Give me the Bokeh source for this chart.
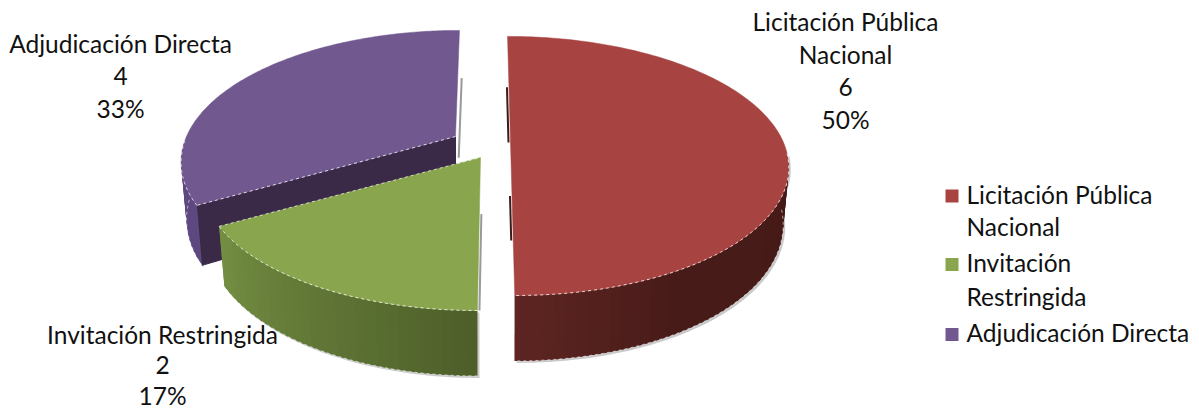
import numpy as np
from bokeh.plotting import figure
from bokeh.core.properties import value
from bokeh.embed import file_html
from bokeh.resources import INLINE

categories = ["Licitación Pública Nacional", "Invitación Restringida", "Adjudicación Directa"]
counts = [6, 2, 4]
top_colors = ["#A74442", "#89A54E", "#71588F"]
legend_lines = [["Licitación Pública", "Nacional"], ["Invitación", "Restringida"], ["Adjudicación Directa"]]
label_lines = [["Licitación Pública", "Nacional"], ["Invitación Restringida"], ["Adjudicación Directa"]]

# layout (page pixel space of the picture)
FONT = "Lato"
SIZE = "24.5px"
K, B = 0.181, 125.3
centers = [(510, 142, 273, -3.5), (480, 157, 273, 2.5), (455, 136, 269, 4.7)]
# wall colour stops: (clock angle, colour) for each slice
wall_stops = [
    [(95, "#451A17"), (150, "#471B18"), (180, "#5E2522")],
    [(180, "#4D5E29"), (240, "#748F43")],
    [(240, "#5E4880"), (268, "#5E4880")],
]
wall_ranges = [(95, 180), (180, 240), (240, 268)]
label_pos = [(845, 21), (162, 334), (120, 43)]
label_step = [32.5, 30.5, 32.5]
legend_x, legend_text_x = 945, 966
legend_y = [[194, 226], [262, 296], [332]]
legend_sq = [195.5, 264, 334]

W, H = 1199, 410
p = figure(width=W, height=H, x_range=(0, W), y_range=(H, 0),
           output_backend="svg", toolbar_location=None, min_border=0)
p.axis.visible = False
p.grid.visible = False
p.outline_line_color = None
p.background_fill_color = "white"


def ring(c, th, lower=False):
    cx, cy, a, s = c
    t = np.radians(th)
    u, v = np.sin(t), np.cos(t)
    d = 1 + K * v
    x = (a * u + s * v) / d
    y = -B * v / d
    if lower:
        return cx + x * 0.98, cy + y * 1.065 + 55.5
    return cx + x, cy + y


def radial(c, th, f0, f1, dx):
    ex, ey = ring(c, th)
    return [c[0] + (ex - c[0]) * f0 + dx, c[0] + (ex - c[0]) * f1 + dx], [c[1] + (ey - c[1]) * f0, c[1] + (ey - c[1]) * f1]


def hex2(c):
    return np.array([int(c[i:i + 2], 16) for i in (1, 3, 5)], float)


def wall_colour(stops, th):
    xs = [s[0] for s in stops]
    rgb = [np.interp(th, xs, [hex2(s[1])[i] for s in stops]) for i in range(3)]
    return "#%02x%02x%02x" % tuple(int(round(v)) for v in rgb)


total = sum(counts)
angles = np.cumsum([0] + [360 * c / total for c in counts])
DASH = "3 3"

for i in [2, 1, 0]:
    c = centers[i]
    a0, a1 = angles[i], angles[i + 1]
    w0, w1 = wall_ranges[i]
    # soft shadow of the solid
    tt = np.linspace(w0, w1, 60)
    sx = np.r_[ring(c, tt)[0], ring(c, tt[::-1], True)[0]]
    sy = np.r_[ring(c, tt)[1], ring(c, tt[::-1], True)[1]]
    p.patch(sx + 2, sy + 2, fill_color="#888888", fill_alpha=0.45, line_color=None)
    # grey edge shadows along the cut sides
    if i == 2:
        lx, ly = radial(c, a1, 0.0 - 0.2, 0.55, 4)
        p.line(lx, ly, line_color="#9a9a9a", line_width=2)
    if i == 1:
        lx, ly = radial(c, a0, 0.37, 1.0, 2)
        p.line(lx, ly, line_color="#9a9a9a", line_width=2)
    # cut face of the purple slice
    if i == 2:
        x0, y0 = ring(c, a0)
        x1, y1 = ring(c, a0, True)
        p.patch([c[0], x0, x1, c[0]], [c[1], y0, y1, c[1] + 55.5],
                fill_color="#3A2A48", line_color="#3A2A48")
    # wall strips, each overlapping its neighbour so that no seams show
    edges = np.r_[np.arange(w0, w1, 2.0), w1]
    for t0, t1 in zip(edges[:-1], edges[1:]):
        span = np.array([t0, min(t1 + 2.0, w1)])
        ax, ay = ring(c, span)
        ex, ey = ring(c, span[::-1], True)
        col = wall_colour(wall_stops[i], (t0 + t1) / 2)
        p.patch(np.r_[ax, ex], np.r_[ay, ey], fill_color=col, line_color=None)
    # dark slivers of the red slice's flat side
    if i == 0:
        lx, ly = radial(c, a0, 0.0, 0.52, -2)
        p.line(lx, ly, line_color="#3F1A18", line_width=2)
        lx, ly = radial(c, a1, 0.35, 0.64, -2)
        p.line(lx, ly, line_color="#3F1A18", line_width=2)
    # top face
    th = np.linspace(a0, a1, 160)
    tx, ty = ring(c, th)
    p.patch(np.r_[c[0], tx], np.r_[c[1], ty], fill_color=top_colors[i], line_color=top_colors[i], line_width=0.5)
    # light dashed rims
    rim = np.linspace(w0, w1, 80)
    rx, ry = ring(c, rim)
    bx, by = ring(c, rim, True)
    p.line(rx, ry, line_color="white", line_alpha=0.8, line_width=1, line_dash=DASH)
    p.line(bx, by, line_color="white", line_alpha=0.6, line_width=1, line_dash=DASH)
    if i == 2:
        p.line([c[0], ring(c, a0)[0]], [c[1], ring(c, a0)[1]], line_color="white", line_alpha=0.8, line_dash=DASH)
    if i == 1:
        p.line([ring(c, a1)[0], c[0]], [ring(c, a1)[1], c[1]], line_color="white", line_alpha=0.7, line_dash=DASH)

# data labels
tx, ty, tt = [], [], []
for i, (x, y) in enumerate(label_pos):
    lines = label_lines[i] + [str(counts[i]), f"{round(100 * counts[i] / total)}%"]
    for j, s in enumerate(lines):
        tx.append(x)
        ty.append(y + j * label_step[i])
        tt.append(s)
p.text(tx, ty, text=tt, text_font=value(FONT), text_font_size=value(SIZE), text_color="#111111",
       text_align="center", text_baseline="middle")

# legend
for i, lines in enumerate(legend_lines):
    p.scatter([legend_x + 6.5], [legend_sq[i]], marker="square", size=13, fill_color=top_colors[i], line_color=None)
    p.text([legend_text_x] * len(lines), legend_y[i], text=lines, text_font=value(FONT), text_font_size=value(SIZE),
           text_color="#111111", text_align="left", text_baseline="middle")

open("out.html", "w").write(file_html(p, INLINE))
